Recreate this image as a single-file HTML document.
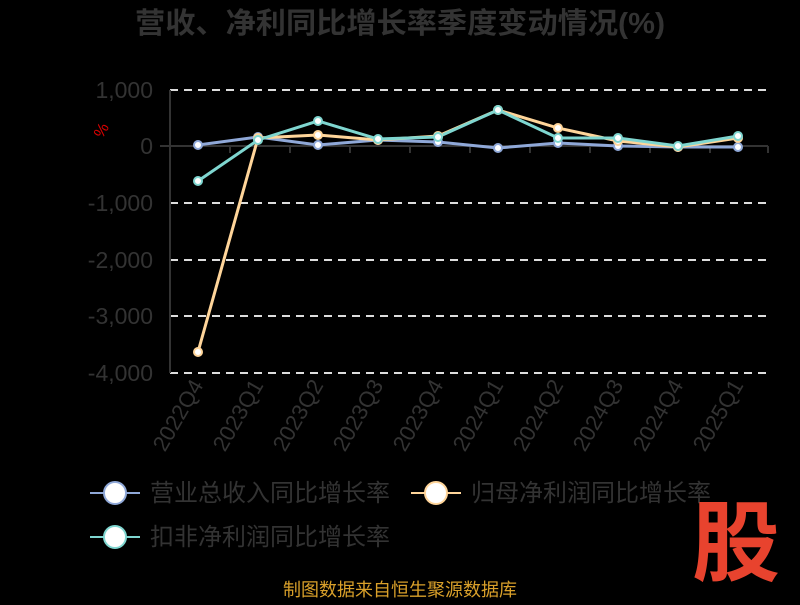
<!DOCTYPE html>
<html><head><meta charset="utf-8"><style>
body{margin:0;background:#000;width:800px;height:600px;overflow:hidden;font-family:"Liberation Sans","Noto Sans CJK SC",sans-serif}
</style></head><body>
<svg width="800" height="600" xmlns="http://www.w3.org/2000/svg" style="font-family:'Liberation Sans','Noto Sans CJK SC',sans-serif">
<rect width="800" height="600" fill="#000"/>
<text x="400" y="33" text-anchor="middle" font-size="29" font-weight="bold" fill="#333" textLength="530" lengthAdjust="spacingAndGlyphs">营收、净利同比增长率季度变动情况(%)</text>
<g stroke="#ddd" stroke-width="2" stroke-dasharray="8,6">
<line x1="170" y1="90" x2="768" y2="90"/>
<line x1="170" y1="203" x2="768" y2="203"/>
<line x1="170" y1="260" x2="768" y2="260"/>
<line x1="170" y1="316" x2="768" y2="316"/>
<line x1="170" y1="373" x2="768" y2="373"/>
</g>
<line x1="170" y1="90" x2="170" y2="373" stroke="#333" stroke-width="2"/>
<line x1="160" y1="146" x2="768" y2="146" stroke="#333" stroke-width="2"/>
<g stroke="#333" stroke-width="2">
<line x1="170" y1="146" x2="170" y2="153"/><line x1="230" y1="146" x2="230" y2="153"/><line x1="290" y1="146" x2="290" y2="153"/><line x1="350" y1="146" x2="350" y2="153"/><line x1="410" y1="146" x2="410" y2="153"/><line x1="470" y1="146" x2="470" y2="153"/><line x1="530" y1="146" x2="530" y2="153"/><line x1="590" y1="146" x2="590" y2="153"/><line x1="650" y1="146" x2="650" y2="153"/><line x1="710" y1="146" x2="710" y2="153"/><line x1="768" y1="146" x2="768" y2="153"/>
</g>
<g font-size="23" fill="#333" text-anchor="end">
<text x="153" y="98">1,000</text><text x="153" y="154">0</text><text x="153" y="211">-1,000</text><text x="153" y="268">-2,000</text><text x="153" y="324">-3,000</text><text x="153" y="381">-4,000</text>
</g>
<text x="106" y="133" font-size="16" fill="#d00" transform="rotate(-60 106 133)" text-anchor="middle">%</text>
<g font-size="22" fill="#333" text-anchor="end">
<text transform="translate(204,385) rotate(-60)">2022Q4</text>
<text transform="translate(264,385) rotate(-60)">2023Q1</text>
<text transform="translate(324,385) rotate(-60)">2023Q2</text>
<text transform="translate(384,385) rotate(-60)">2023Q3</text>
<text transform="translate(444,385) rotate(-60)">2023Q4</text>
<text transform="translate(504,385) rotate(-60)">2024Q1</text>
<text transform="translate(564,385) rotate(-60)">2024Q2</text>
<text transform="translate(624,385) rotate(-60)">2024Q3</text>
<text transform="translate(684,385) rotate(-60)">2024Q4</text>
<text transform="translate(744,385) rotate(-60)">2025Q1</text>
</g>
<polyline fill="none" stroke="#8fa8d8" stroke-width="3" points="198,145 258,137 318,145 378,140 438,142 498,148 558,143 618,146 678,147 738,147"/>
<polyline fill="none" stroke="#ffd59a" stroke-width="3" points="198,352 258,138 318,135 378,140 438,136 498,110 558,128 618,141 678,147 738,138"/>
<polyline fill="none" stroke="#7fd6d0" stroke-width="3" points="198,181 258,140 318,121 378,139 438,137 498,110 558,138 618,138 678,146 738,136"/>
<g fill="#fff" stroke="#8fa8d8" stroke-width="2">
<circle cx="198" cy="145" r="4"/><circle cx="258" cy="137" r="4"/><circle cx="318" cy="145" r="4"/><circle cx="378" cy="140" r="4"/><circle cx="438" cy="142" r="4"/><circle cx="498" cy="148" r="4"/><circle cx="558" cy="143" r="4"/><circle cx="618" cy="146" r="4"/><circle cx="678" cy="147" r="4"/><circle cx="738" cy="147" r="4"/>
</g>
<g fill="#fff" stroke="#ffd59a" stroke-width="2">
<circle cx="198" cy="352" r="4"/><circle cx="258" cy="138" r="4"/><circle cx="318" cy="135" r="4"/><circle cx="378" cy="140" r="4"/><circle cx="438" cy="136" r="4"/><circle cx="498" cy="110" r="4"/><circle cx="558" cy="128" r="4"/><circle cx="618" cy="141" r="4"/><circle cx="678" cy="147" r="4"/><circle cx="738" cy="138" r="4"/>
</g>
<g fill="#fff" stroke="#7fd6d0" stroke-width="2">
<circle cx="198" cy="181" r="4"/><circle cx="258" cy="140" r="4"/><circle cx="318" cy="121" r="4"/><circle cx="378" cy="139" r="4"/><circle cx="438" cy="137" r="4"/><circle cx="498" cy="110" r="4"/><circle cx="558" cy="138" r="4"/><circle cx="618" cy="138" r="4"/><circle cx="678" cy="146" r="4"/><circle cx="738" cy="136" r="4"/>
</g>
<line x1="90" y1="493" x2="140" y2="493" stroke="#8fa8d8" stroke-width="2"/>
<circle cx="115" cy="493" r="11" fill="#fff" stroke="#8fa8d8" stroke-width="2"/>
<text x="150" y="501" font-size="24" fill="#333">营业总收入同比增长率</text>
<line x1="411" y1="493" x2="461" y2="493" stroke="#ffd59a" stroke-width="2"/>
<circle cx="436" cy="493" r="11" fill="#fff" stroke="#ffd59a" stroke-width="2"/>
<text x="471" y="501" font-size="24" fill="#333">归母净利润同比增长率</text>
<line x1="90" y1="537" x2="140" y2="537" stroke="#7fd6d0" stroke-width="2"/>
<circle cx="115" cy="537" r="11" fill="#fff" stroke="#7fd6d0" stroke-width="2"/>
<text x="150" y="545" font-size="24" fill="#333">扣非净利润同比增长率</text>
<text x="736" y="574" text-anchor="middle" font-size="88" font-weight="bold" fill="#e8432e">股</text>
<text x="400" y="596" text-anchor="middle" font-size="18" fill="#d9a02a">制图数据来自恒生聚源数据库</text>
</svg>
</body></html>
